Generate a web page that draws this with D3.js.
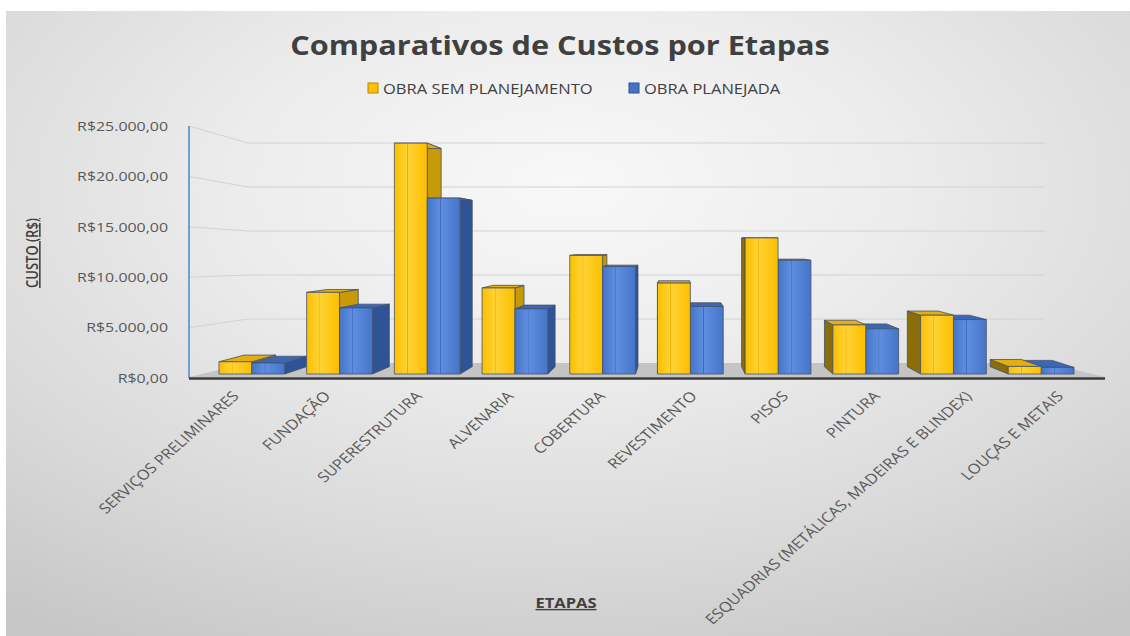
<!DOCTYPE html>
<html>
<head>
<meta charset="utf-8">
<script src="https://cdn.jsdelivr.net/npm/d3@7/dist/d3.min.js"></script>
<style>
  body { margin: 0; background: #fff; }
  svg { display: block; }
  text { font-family: "Open Sans", "DejaVu Sans", sans-serif; }
</style>
</head>
<body>
<div id="chart"></div>
<script>
(function () {
    'use strict';

    // data
    var categories = [
        "SERVIÇOS PRELIMINARES", "FUNDAÇÃO", "SUPERESTRUTURA", "ALVENARIA", "COBERTURA",
        "REVESTIMENTO", "PISOS", "PINTURA", "ESQUADRIAS (METÁLICAS, MADEIRAS E BLINDEX)", "LOUÇAS E METAIS"
    ];
    var seriesNames = ["OBRA SEM PLANEJAMENTO", "OBRA PLANEJADA"];
    var semPlanejamento = [1260, 8400, 23750, 8850, 12200, 9350, 14000, 5050, 6050, 780];
    var planejada = [1130, 6800, 18100, 6700, 11050, 6950, 11700, 4650, 5600, 680];
    var yTicks = [0, 5000, 10000, 15000, 20000, 25000];

    var W = 1130, H = 636;
    var SX = 1.18; // the source picture is stretched sideways
    var VX = 680, VY = 240, K = 0.055; // fake perspective for the 3d bars
    var front = { left: 189, right: 1105 };
    var back = { left: 248, right: 1045 };

    var colors = {
        front: ["url(#gYellow)", "url(#gBlue)"],
        top: ["#e4ae0e", "#3b67b6"],
        sideR: ["#c89a08", "#2e5396"],
        sideL: ["#8a6e0a", "#284375"],
        legend: ["#ffc000", "#4472c4"],
        legendStroke: ["#b58a00", "#2f528f"]
    };

    var brl = function (v) {
        var s = d3.format(",.2f")(v).replace(/,/g, "#").replace(".", ",").replace(/#/g, ".");
        return "R$" + s;
    };

    var svg = d3.select("#chart").append("svg")
        .attr("width", W).attr("height", H);
    var defs = svg.append("defs");

    var bg = defs.append("radialGradient").attr("id", "bg")
        .attr("cx", "50%").attr("cy", "28%").attr("r", "85%");
    bg.append("stop").attr("offset", 0).attr("stop-color", "#f8f8f8");
    bg.append("stop").attr("offset", 0.35).attr("stop-color", "#ececec");
    bg.append("stop").attr("offset", 0.7).attr("stop-color", "#d9d9d9");
    bg.append("stop").attr("offset", 1).attr("stop-color", "#c6c6c6");

    var addBarGrad = function (id, a, b, line) {
        var g = defs.append("linearGradient").attr("id", id)
            .attr("x1", 0).attr("x2", 1).attr("y1", 0).attr("y2", 0);
        [[0, a], [0.38, b], [0.4, line], [0.42, b], [1, a]].forEach(function (s) {
            g.append("stop").attr("offset", s[0]).attr("stop-color", s[1]);
        });
    };
    addBarGrad("gYellow", "#fcbf00", "#ffd233", "#e8ad00");
    addBarGrad("gBlue", "#4675c8", "#5d8ee0", "#4168b2");

    svg.append("rect")
        .attr("x", 6).attr("y", 11)
        .attr("width", W - 6).attr("height", H - 11)
        .attr("fill", "url(#bg)");

    // scales
    var yFront = d3.scaleLinear().domain([0, 25000]).range([378, 126]);
    var yBack = d3.scaleLinear().domain([0, 25000]).range([363, 143]);
    var yBar = d3.scaleLinear().domain([0, 25000]).range([374, 131]);
    var xFront = d3.scaleBand().domain(categories).range([front.left, front.right]);
    var xBar = d3.scaleBand().domain(categories).range([208, 1085])
        .paddingInner(0.25).paddingOuter(0.125);
    var xSeries = d3.scaleBand().domain(seriesNames).range([0, xBar.bandwidth()]);

    var toBack = function (p) {
        return [p[0] + K * (VX - p[0]), p[1] + K * (VY - p[1])];
    };
    var pts = function (arr) {
        return arr.map(function (p) { return p[0] + "," + p[1]; }).join(" ");
    };

    // walls: gridlines on the side wall and back wall
    var grid = svg.append("g");
    grid.selectAll(".grid")
        .data(yTicks.slice(1))
        .enter()
        .append("polyline")
        .attr("class", "grid")
        .attr("fill", "none")
        .attr("stroke", "#d2d2d2")
        .attr("stroke-width", 1)
        .attr("points", function (d) {
            return pts([[front.left, yFront(d)], [back.left, yBack(d)], [back.right, yBack(d)]]);
        });

    // floor
    svg.append("polygon")
        .attr("points", pts([[front.left, yFront(0) - 1], [front.right, yFront(0) - 1],
            [back.right, yBack(0)], [back.left, yBack(0)]]))
        .attr("fill", "#c4c4c4");

    // vertical axis line
    svg.append("line")
        .attr("x1", front.left).attr("x2", front.left)
        .attr("y1", yFront(25000)).attr("y2", yFront(0))
        .attr("stroke", "#6fa0d8").attr("stroke-width", 2);

    // bars
    var bars = [];
    categories.forEach(function (c, i) {
        [semPlanejamento, planejada].forEach(function (vals, s) {
            var x0 = xBar(c) + xSeries(seriesNames[s]);
            bars.push({ cat: c, s: s, v: vals[i], x0: x0, x1: x0 + xSeries.bandwidth() });
        });
    });
    var dist = function (b) { return Math.abs((b.x0 + b.x1) / 2 - VX); };
    bars.sort(function (a, b) { return dist(b) - dist(a); });

    var barG = svg.append("g").selectAll(".bar")
        .data(bars)
        .enter()
        .append("g")
        .attr("class", "bar")
        .attr("stroke", "#44506a")
        .attr("stroke-width", 0.8)
        .attr("stroke-linejoin", "round");

    barG.append("polygon")
        .attr("fill", function (d) { return d.x1 < VX ? colors.sideR[d.s] : colors.sideL[d.s]; })
        .attr("points", function (d) {
            var y0 = yBar(0), y1 = yBar(d.v);
            var A = [d.x0, y1], B = [d.x1, y1], C = [d.x1, y0], D = [d.x0, y0];
            if (d.x1 < VX) return pts([B, C, toBack(C), toBack(B)]);
            return pts([A, D, toBack(D), toBack(A)]);
        });
    barG.append("polygon")
        .attr("fill", function (d) { return colors.top[d.s]; })
        .attr("points", function (d) {
            var y1 = yBar(d.v);
            var A = [d.x0, y1], B = [d.x1, y1];
            return pts([A, B, toBack(B), toBack(A)]);
        });
    barG.append("rect")
        .attr("x", function (d) { return d.x0; })
        .attr("y", function (d) { return yBar(d.v); })
        .attr("width", function (d) { return d.x1 - d.x0; })
        .attr("height", function (d) { return yBar(0) - yBar(d.v); })
        .attr("fill", function (d) { return colors.front[d.s]; });

    // horizontal axis line
    svg.append("line")
        .attr("x1", front.left).attr("x2", front.right)
        .attr("y1", yFront(0) + 0.5).attr("y2", yFront(0) + 0.5)
        .attr("stroke", "#3a3a3a").attr("stroke-width", 2.5);

    // y tick labels
    svg.append("g").selectAll(".ytick")
        .data(yTicks)
        .enter()
        .append("text")
        .attr("class", "ytick")
        .attr("transform", function (d) { return "translate(168," + yFront(d) + ") scale(" + SX + ",1)"; })
        .attr("dy", "0.35em")
        .attr("text-anchor", "end")
        .attr("font-size", 13.5)
        .attr("fill", "#595959")
        .text(brl);

    // category labels
    svg.append("g").selectAll(".xlabel")
        .data(categories)
        .enter()
        .append("text")
        .attr("class", "xlabel")
        .attr("transform", function (d) {
            return "translate(" + (xFront(d) + xFront.bandwidth() / 2 + 5) + ",397) scale(" + SX + ",1) rotate(-46)";
        })
        .attr("text-anchor", "end")
        .attr("font-size", 14)
        .attr("fill", "#595959")
        .text(function (d) { return d; });

    // title
    svg.append("text")
        .attr("transform", "translate(560,55) scale(" + SX + ",1)")
        .attr("text-anchor", "middle")
        .attr("font-size", 26)
        .attr("font-weight", "bold")
        .attr("fill", "#404040")
        .text("Comparativos de Custos por Etapas");

    // legend
    var legendX = [368, 629];
    var leg = svg.append("g").selectAll(".legend")
        .data(seriesNames)
        .enter()
        .append("g")
        .attr("class", "legend");
    leg.append("rect")
        .attr("x", function (d, i) { return legendX[i]; })
        .attr("y", 83)
        .attr("width", 10).attr("height", 10)
        .attr("fill", function (d, i) { return colors.legend[i]; })
        .attr("stroke", function (d, i) { return colors.legendStroke[i]; });
    leg.append("text")
        .attr("transform", function (d, i) { return "translate(" + (legendX[i] + 15) + ",93.5) scale(" + SX + ",1)"; })
        .attr("font-size", 14)
        .attr("fill", "#404040")
        .text(function (d) { return d; });

    // axis titles
    svg.append("text")
        .attr("transform", "translate(38,253) scale(" + SX + ",1) rotate(-90)")
        .attr("text-anchor", "middle")
        .attr("font-size", 13)
        .attr("font-weight", 600)
        .attr("fill", "#404040")
        .attr("text-decoration", "underline")
        .text("CUSTO (R$)");
    svg.append("text")
        .attr("transform", "translate(566,608) scale(" + SX + ",1)")
        .attr("text-anchor", "middle")
        .attr("font-size", 14)
        .attr("font-weight", "bold")
        .attr("fill", "#404040")
        .attr("text-decoration", "underline")
        .text("ETAPAS");
}());
</script>
</body>
</html>
